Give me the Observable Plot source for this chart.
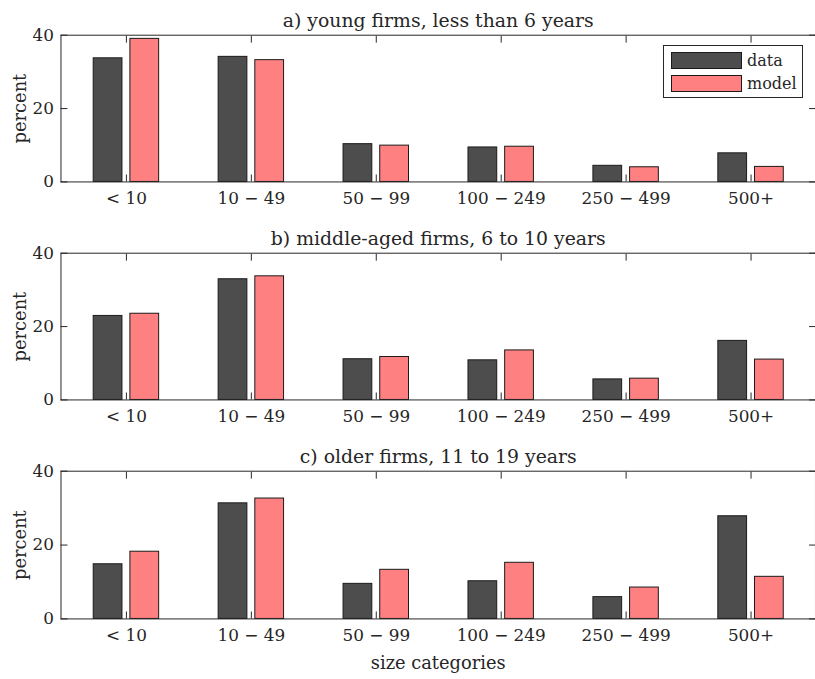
<!DOCTYPE html>
<html>
<head>
<meta charset="utf-8">
<script src="https://cdn.jsdelivr.net/npm/d3@7"></script>
<script src="https://cdn.jsdelivr.net/npm/@observablehq/plot@0.6"></script>
<style>
  html, body { margin: 0; padding: 0; background: #fff; overflow: hidden; }
  #chart { position: relative; width: 815px; height: 679px; overflow: hidden; }
  #chart svg { display: block; }
  .legend {
    position: absolute; left: 663px; top: 45px; width: 138px; height: 51px;
    border: 1px solid #262626; background: #fff;
    font-family: "DejaVu Serif", serif; font-size: 16px; color: #262626;
  }
  .legend .row { position: absolute; left: 7px; height: 17px; display: flex; align-items: center; }
  .legend .sw { width: 69px; height: 15px; border: 1px solid #1a1a1a; margin-right: 5px; }
</style>
</head>
<body>
<div id="chart"></div>
<script>
// Firm size distribution by age group: observed data vs. model
const categories = ["< 10", "10 \u2212 49", "50 \u2212 99", "100 \u2212 249", "250 \u2212 499", "500+"];
const seriesNames = ["data", "model"];
const panelTitles = [
  "a) young firms, less than 6 years",
  "b) middle-aged firms, 6 to 10 years",
  "c) older firms, 11 to 19 years"
];
const youngData   = [33.7, 34.1, 10.3, 9.4, 4.4, 7.8];
const youngModel  = [39.0, 33.2, 9.9, 9.6, 4.0, 4.1];
const middleData  = [22.9, 32.9, 11.1, 10.8, 5.6, 16.1];
const middleModel = [23.5, 33.7, 11.7, 13.5, 5.8, 11.0];
const olderData   = [14.8, 31.3, 9.5, 10.2, 5.9, 27.8];
const olderModel  = [18.2, 32.6, 13.3, 15.2, 8.5, 11.4];
const yTicks = [0, 20, 40];
const yLabel = "percent";
const xLabel = "size categories";

const FONT = "'DejaVu Serif', serif";
const FS = 17;        // tick labels
const FS_LABEL = 18;  // axis labels
const FS_TITLE = 19;  // panel titles
const INK = "#262626";
const EDGE = "#1a1a1a";
const fills = ["#4d4d4d", "#ff8080"];

function panel(title, dataVals, modelVals, {height, marginBottom, withXLabel}) {
  const rows = categories.map((c, i) => ({category: c, data: dataVals[i], model: modelVals[i]}));
  const marks = [
    Plot.barY(rows, {x: "category", y: "data", fill: fills[0], stroke: EDGE, strokeWidth: 1, insetLeft: 30, insetRight: 67}),
    Plot.barY(rows, {x: "category", y: "model", fill: fills[1], stroke: EDGE, strokeWidth: 1, insetLeft: 67, insetRight: 30}),
    Plot.frame({stroke: INK, strokeWidth: 1}),
    Plot.axisY({anchor: "left", ticks: yTicks, tickSize: -7, tickPadding: 14, stroke: INK, fill: INK, label: null, fontSize: FS}),
    Plot.axisY({anchor: "right", ticks: yTicks, tickSize: -7, tickFormat: () => "", stroke: INK, label: null}),
    Plot.axisX({anchor: "bottom", tickSize: -7, tickPadding: 17, stroke: INK, fill: INK, label: null, fontSize: FS}),
    Plot.axisX({anchor: "top", tickSize: -7, tickFormat: () => "", stroke: INK, label: null}),
    Plot.text([title], {frameAnchor: "top", dy: -22, text: d => d, fontSize: FS_TITLE, fill: INK}),
    Plot.text([yLabel], {frameAnchor: "left", dx: -41, rotate: -90, textAnchor: "middle", lineAnchor: "middle", text: d => d, fontSize: FS_LABEL, fill: INK})
  ];
  if (withXLabel) {
    marks.push(Plot.text([xLabel], {frameAnchor: "bottom", dy: 38, lineAnchor: "top", text: d => d, fontSize: FS_LABEL, fill: INK}));
  }
  return Plot.plot({
    width: 822,
    height,
    marginLeft: 61,
    marginRight: 0,
    marginTop: 35,
    marginBottom,
    style: {fontFamily: FONT, fontSize: FS + "px", color: INK, background: "#fff", overflow: "visible"},
    x: {type: "band", domain: categories, padding: 0},
    y: {domain: [0, 40]},
    marks
  });
}

const chart = document.getElementById("chart");
chart.append(panel(panelTitles[0], youngData, youngModel, {height: 220, marginBottom: 37}));
chart.append(panel(panelTitles[1], middleData, middleModel, {height: 220, marginBottom: 37}));
chart.append(panel(panelTitles[2], olderData, olderModel, {height: 239, marginBottom: 55, withXLabel: true}));

// legend for the two series, inside the first panel
const legend = document.createElement("div");
legend.className = "legend";
seriesNames.forEach((name, i) => {
  const row = document.createElement("div");
  row.className = "row";
  row.style.top = (6 + i * 22.5) + "px";
  const sw = document.createElement("div");
  sw.className = "sw";
  sw.style.background = fills[i];
  const label = document.createElement("span");
  label.textContent = name;
  row.append(sw, label);
  legend.append(row);
});
chart.append(legend);
</script>
</body>
</html>
